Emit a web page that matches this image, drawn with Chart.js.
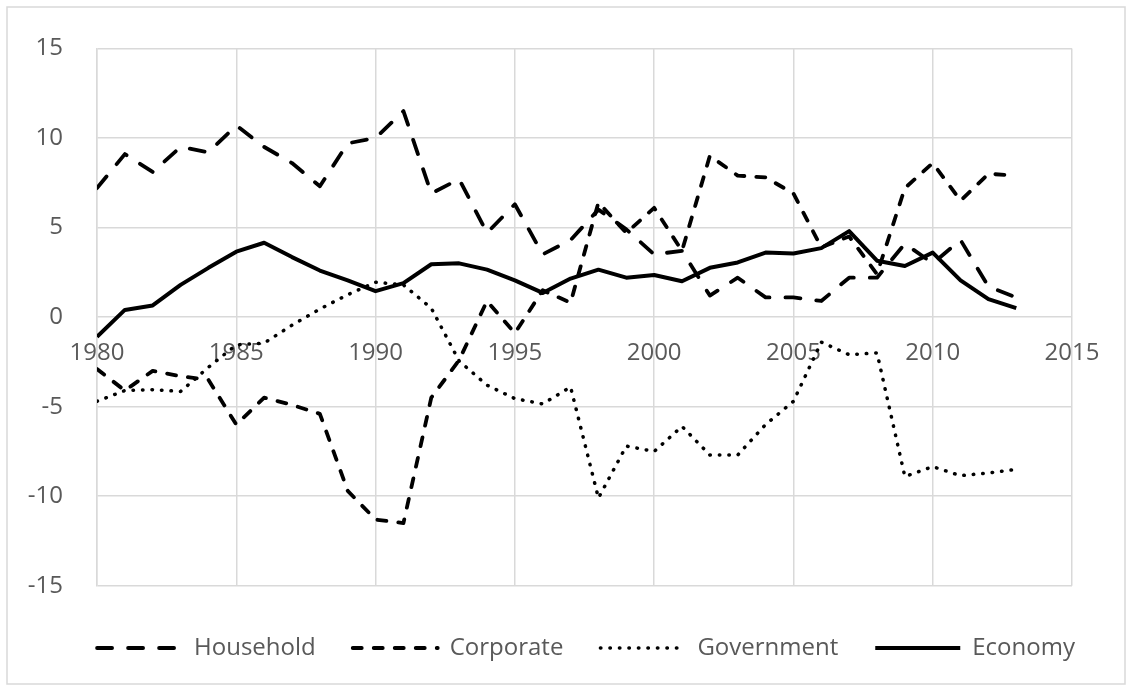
<!DOCTYPE html>
<html>
<head>
<meta charset="utf-8">
<script src="https://cdn.jsdelivr.net/npm/chart.js@4.4.1/dist/chart.umd.min.js"></script>
<style>
  html, body { margin: 0; padding: 0; background: #fff; }
  canvas { display: block; }
</style>
</head>
<body>
<canvas id="chartSectors" width="1132" height="691"></canvas>
<script>
const years = [1980, 1981, 1982, 1983, 1984, 1985, 1986, 1987, 1988, 1989,
               1990, 1991, 1992, 1993, 1994, 1995, 1996, 1997, 1998, 1999,
               2000, 2001, 2002, 2003, 2004, 2005, 2006, 2007, 2008, 2009,
               2010, 2011, 2012, 2013];

const household = [7.2, 9.1, 8.1, 9.5, 9.2, 10.7, 9.5, 8.6, 7.3, 9.7,
                   10.0, 11.5, 6.9, 7.7, 4.7, 6.3, 3.5, 4.3, 6.0, 4.9,
                   3.5, 3.7, 1.2, 2.2, 1.1, 1.1, 0.9, 2.2, 2.2, 4.1,
                   3.0, 4.3, 1.7, 1.1];

const corporate = [-2.9, -4.1, -3.0, -3.3, -3.5, -6.0, -4.5, -4.9, -5.4, -9.7,
                   -11.3, -11.5, -4.5, -2.4, 0.9, -0.9, 1.5, 0.8, 6.4, 4.7,
                   6.1, 3.7, 9.0, 7.9, 7.8, 6.9, 3.9, 4.5, 2.4, 7.2,
                   8.6, 6.5, 8.0, 7.9];

const government = [-4.7, -4.1, -4.05, -4.15, -2.8, -1.55, -1.45, -0.45, 0.45, 1.25,
                    1.95, 1.8, 0.5, -2.45, -3.8, -4.55, -4.85, -3.9, -10.1, -7.2,
                    -7.5, -6.1, -7.7, -7.7, -6.0, -4.7, -1.4, -2.1, -2.0, -8.9,
                    -8.35, -8.85, -8.7, -8.5];

const economy = [-1.1, 0.4, 0.65, 1.8, 2.75, 3.65, 4.15, 3.35, 2.6, 2.05,
                 1.45, 1.9, 2.95, 3.0, 2.65, 2.05, 1.35, 2.15, 2.65, 2.2,
                 2.35, 2.0, 2.75, 3.05, 3.6, 3.55, 3.85, 4.8, 3.15, 2.85,
                 3.6, 2.05, 1.0, 0.5];

const xTicks = [1980, 1985, 1990, 1995, 2000, 2005, 2010, 2015];
const yTicks = [-15, -10, -5, 0, 5, 10, 15];

const toPoints = values => values.map((v, i) => ({ x: years[i], y: v }));

const textColor = '#595959';
const gridColor = '#d9d9d9';

// light frame round the whole chart, and nudge the legend row to the right
const frame = {
    id: 'frame',
    afterLayout(chart) {
        chart.legend.left += 40;
    },
    beforeDraw(chart) {
        const ctx = chart.ctx;
        ctx.save();
        ctx.fillStyle = '#fff';
        ctx.fillRect(0, 0, chart.width, chart.height);
        ctx.strokeStyle = gridColor;
        ctx.lineWidth = 1.5;
        ctx.strokeRect(7, 7, chart.width - 14, chart.height - 14);
        ctx.restore();
    }
};

function lineSet(label, values, dash, width) {
    return {
        label: label,
        data: toPoints(values),
        borderColor: '#000',
        backgroundColor: '#000',
        borderWidth: width,
        borderDash: dash,
        borderCapStyle: dash.length ? 'round' : 'butt',
        borderJoinStyle: 'round',
        pointRadius: 0,
        pointHoverRadius: 0,
        tension: 0,
        fill: false
    };
}

var ctx = document.getElementById('chartSectors').getContext('2d');
var chart = new Chart(ctx, {
    type: 'line',
    data: {
        datasets: [
            lineSet('Household', household, [15, 16], 3.8),
            lineSet('Corporate', corporate, [9, 12], 3.8),
            lineSet('Government', government, [0.5, 9], 3.5),
            lineSet('Economy', economy, [], 4)
        ]
    },
    options: {
        responsive: false,
        animation: false,
        devicePixelRatio: 1,
        layout: { padding: { top: 43, left: 0, right: 0, bottom: 21 } },
        plugins: {
            tooltip: { enabled: false },
            legend: {
                position: 'bottom',
                title: { display: true, text: '', padding: 0, font: { size: 11 } },
                labels: {
                    usePointStyle: true,
                    pointStyle: 'line',
                    pointStyleWidth: 85,
                    padding: 37,
                    color: textColor,
                    font: { family: 'Open Sans', size: 24 },
                    generateLabels: c => c.data.datasets.map((ds, i) => ({
                        text: ds.label,
                        datasetIndex: i,
                        fontColor: textColor,
                        strokeStyle: ds.borderColor,
                        fillStyle: ds.borderColor,
                        lineWidth: ds.borderWidth,
                        lineDash: ds.borderDash,
                        lineCap: ds.borderCapStyle,
                        pointStyle: 'line',
                        hidden: false
                    }))
                }
            }
        },
        scales: {
            x: {
                type: 'linear',
                min: 1980,
                max: 2015,
                position: { y: 0 },
                afterBuildTicks: s => { s.ticks = xTicks.map(v => ({ value: v })); },
                ticks: {
                    color: textColor,
                    font: { family: 'Open Sans', size: 24 },
                    padding: 22,
                    maxRotation: 0,
                    autoSkip: false,
                    callback: v => String(v)
                },
                grid: { color: gridColor, lineWidth: 1.5, drawTicks: false },
                border: { display: false }
            },
            y: {
                min: -15,
                max: 15,
                afterBuildTicks: s => { s.ticks = yTicks.map(v => ({ value: v })); },
                afterFit: s => { s.width = 97; },
                ticks: {
                    color: textColor,
                    font: { family: 'Open Sans', size: 24 },
                    padding: 34
                },
                grid: { color: gridColor, lineWidth: 1.5, drawTicks: false },
                border: { color: gridColor, width: 1.5 }
            },
            yRight: {
                position: 'right',
                min: 0,
                max: 1,
                afterFit: s => { s.width = 60; },
                ticks: { display: false },
                grid: { display: false, drawTicks: false },
                border: { display: false }
            }
        }
    },
    plugins: [frame]
});
</script>
</body>
</html>
